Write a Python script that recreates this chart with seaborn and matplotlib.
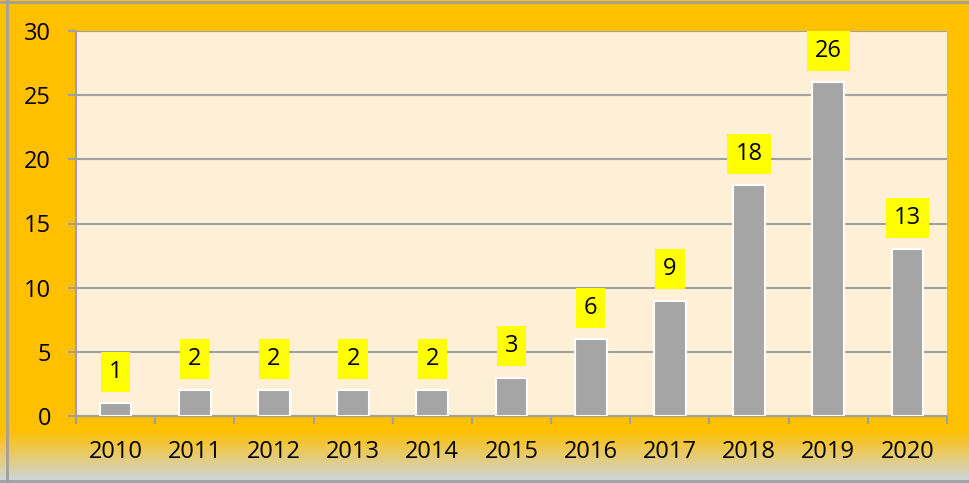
import numpy as np
import pandas as pd
import matplotlib
matplotlib.use("Agg")
import matplotlib.pyplot as plt
import seaborn as sns
from matplotlib.colors import to_rgb

years = ["2010", "2011", "2012", "2013", "2014", "2015", "2016", "2017", "2018", "2019", "2020"]
counts = [1, 2, 2, 2, 2, 3, 6, 9, 18, 26, 13]
yticks = [0, 5, 10, 15, 20, 25, 30]

sns.set_theme(style="white")
plt.rcParams["font.family"] = ["Open Sans", "DejaVu Sans"]
plt.rcParams["text.color"] = "black"
plt.rcParams["xtick.color"] = "black"
plt.rcParams["ytick.color"] = "black"

W, H = 969, 483
fig = plt.figure(figsize=(W / 100, H / 100), dpi=100)

# background gradient (orange to grey-blue at the bottom)
bg = fig.add_axes([0, 0, 1, 1], zorder=-10)
n = 483
orange = np.array(to_rgb("#FFC000"))
blue = np.array(to_rgb("#CDD6DE"))
yy = np.arange(n)
start = 430
t = np.clip((yy - start) / (480 - start), 0, 1)
img = orange[None, :] * (1 - t[:, None]) + blue[None, :] * t[:, None]
img = np.repeat(img[:, None, :], 4, axis=1)
bg.imshow(img, aspect="auto", extent=[0, 1, 0, 1], origin="upper")
bg.plot([7 / W, 7 / W], [0, 1], color="#A0A0A0", lw=2)
bg.plot([0, 1], [1 - 1.5 / H, 1 - 1.5 / H], color="#A0A0A0", lw=2)
bg.plot([0, 1], [2 / H, 2 / H], color="#A0A0A0", lw=2)
bg.set_xlim(0, 1)
bg.set_ylim(0, 1)
bg.axis("off")

ax = fig.add_axes([76 / W, 1 - 416 / H, (947 - 76) / W, (416 - 31) / H])
ax.set_facecolor("#FDF0D6")

df = pd.DataFrame({"year": years, "count": counts})
sns.barplot(data=df, x="year", y="count", color="#A5A5A5", width=0.4,
            edgecolor="white", linewidth=1.5, saturation=1, ax=ax, zorder=3)

ax.set_ylim(0, 30)
ax.set_xlim(-0.5, len(years) - 0.5)
ax.set_yticks(yticks)
ax.grid(axis="y", color="#A0A0A0", lw=1.5, zorder=0)
ax.set_axisbelow(True)

for s in ["top", "right"]:
    ax.spines[s].set_visible(False)
for s in ["left", "bottom"]:
    ax.spines[s].set_color("#A0A0A0")
    ax.spines[s].set_linewidth(1.5)

ax.tick_params(axis="y", which="major", length=6, width=1.5, color="#A0A0A0",
               labelsize=17, pad=12, left=True, labelcolor="black")
ax.tick_params(axis="x", which="major", length=0, labelsize=17, pad=17, labelcolor="black")
ax.set_xticks(np.arange(-0.5, len(years), 1.0), minor=True)
ax.tick_params(axis="x", which="minor", length=6, width=1.5, color="#A0A0A0", bottom=True)
ax.set_xlabel("")
ax.set_ylabel("")

for i, v in enumerate(counts):
    ax.annotate(str(v), xy=(i, v), xytext=(0, 14), textcoords="offset points",
                ha="center", va="bottom", fontsize=17, color="black", zorder=5,
                bbox=dict(boxstyle="square,pad=0.34", fc="#FFFF00", ec="none"))

fig.savefig("out.png", dpi=100)
